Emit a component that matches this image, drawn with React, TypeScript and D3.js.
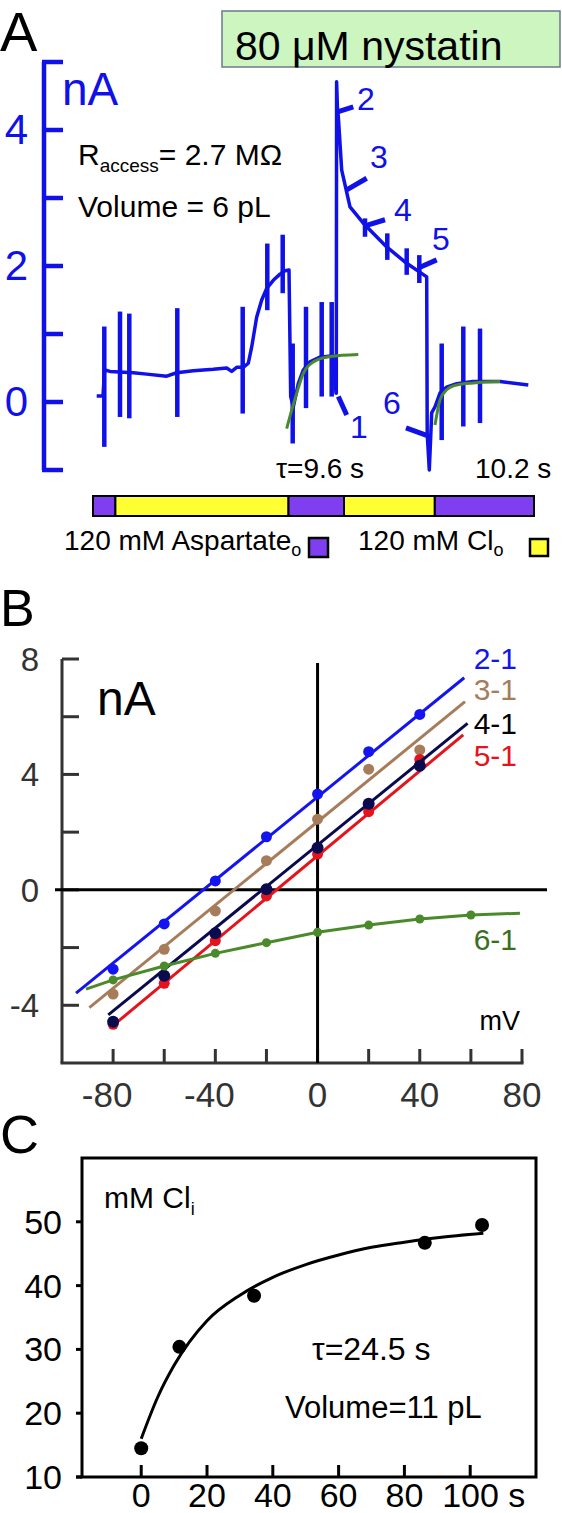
import React from 'react';
import * as d3 from 'd3';

const FONT = "'Liberation Sans', Arial, Helvetica, sans-serif";
const BLUE = '#1010e8';

// ---------- Panel A data (t: arbitrary record time units, v: nA) ----------
const traceA: [number, number][] = [
  [3.7, 0.09], [10, 0.09], [11.5, 0.45], [12, 0.47], [17, 0.45], [40.3, 0.43], [53.7, 0.41],
  [73.7, 0.38], [83.7, 0.43], [100.3, 0.46], [120.3, 0.48], [133.7, 0.5], [138.7, 0.45],
  [143.7, 0.51], [150.3, 0.51], [155.3, 0.57], [158.7, 0.81], [163.7, 1.25], [168.7, 1.5],
  [173.7, 1.67], [180.3, 1.79], [187, 1.88], [192, 1.93], [196, 1.94], [197.7, 0.08],
  [200.3, -0.07], [205.3, 0.27], [210.3, 0.47], [217, 0.59], [227, 0.66], [240.3, 0.68],
  [243, 0.13], [243.3, 0.13], [243.6, 4.71], [244.5, 4.3], [245.3, 4.2], [248.7, 3.41],
  [257, 2.87], [270.3, 2.63], [293.7, 2.28], [313.7, 2.04], [333.7, 1.84], [334.2, -0.46],
  [336.3, -1.0], [338.7, -0.16], [342, -0.07], [347, 0.13], [353.7, 0.22], [363.7, 0.27],
  [380, 0.3], [407, 0.3], [435.3, 0.25],
];
// voltage-step artefacts: [t, top, bottom]
const spikesA: [number, number, number][] = [
  [11.3, 1.11, -0.66], [27, 1.33, -0.22], [36.3, 1.3, -0.24], [84.3, 1.38, -0.22],
  [149.7, 1.4, -0.17], [174.3, 2.33, 1.35], [189.7, 2.46, 1.6], [199.7, 0.86, -0.61],
  [213, 1.4, -0.09], [228.7, 1.47, 0.08], [238.7, 1.47, 0.08], [272, 2.7, 2.43],
  [294.3, 2.48, 2.09], [313.7, 2.26, 1.87], [326.3, 2.16, 1.75], [348.7, 0.86, -0.56],
  [370.3, 1.11, -0.36], [387, 1.08, -0.31],
];
const fitA1: [number, number][] = [
  [193.7, -0.39], [198.7, -0.12], [203.7, 0.13], [210.3, 0.42], [220.3, 0.59], [237, 0.67], [265.3, 0.7],
];
const fitA2: [number, number][] = [
  [342, -0.34], [347, 0.03], [353.7, 0.18], [363.7, 0.25], [380.3, 0.28], [407, 0.3],
];
const markerLabels = ['1', '2', '3', '4', '5', '6'];
const markerLines: [number, number, number, number][] = [
  [245.3, 0.08, 253.7, -0.19], [245.3, 4.27, 260.3, 4.34], [253.7, 3.12, 273.7, 3.29],
  [272, 2.59, 292, 2.68], [325.3, 1.97, 343.7, 2.09], [313, -0.38, 333.7, -0.49],
];
const markerLabelPos: [number, number][] = [
  [257, -0.53], [264, 4.29], [277, 3.44], [301, 2.66], [339, 2.24], [290, -0.18],
];
const yTicksA = [-1, 0, 1, 2, 3, 4, 5];
const yLabelsA = [0, 2, 4];
// solution bar: [start, end, solution]
const solutionBar: [number, number, string][] = [
  [0, 22.4, 'asp'], [22.4, 195.5, 'cl'], [195.5, 251, 'asp'], [251, 341.8, 'cl'], [341.8, 441, 'asp'],
];
const SOL_COLOR: Record<string, string> = { asp: '#7f3ff0', cl: '#ffff33' };

// ---------- Panel B data ----------
const voltagesB = [-80, -60, -40, -20, 0, 20, 40];
const iv21 = [-2.75, -1.18, 0.31, 1.84, 3.32, 4.79, 6.08];
const iv31 = [-3.61, -2.06, -0.73, 1.01, 2.45, 4.18, 4.85];
const iv41 = [-4.57, -2.98, -1.5, 0.02, 1.46, 2.98, 4.3];
const iv51 = [-4.66, -3.24, -1.76, -0.21, 1.24, 2.71, 4.52];
const voltages61 = [-80, -60, -40, -20, 0, 20, 40, 60];
const iv61 = [-3.12, -2.64, -2.2, -1.83, -1.47, -1.22, -1.01, -0.87];
const fit21: [number, number][] = [[-94.5, -3.58], [57.4, 7.35]];
const fit31: [number, number][] = [[-89.3, -4.08], [57.7, 6.52]];
const fit41: [number, number][] = [[-81.9, -4.33], [58.7, 5.77]];
const fit51: [number, number][] = [[-80.8, -4.76], [57, 5.37]];
const ends61: [number, number][] = [[-90.6, -3.44], [79.2, -0.81]];
const yTicksB = [-4, -2, 0, 2, 4, 6, 8];
const yLabelsB = [-4, 0, 4, 8];
const xTicksB = [-80, -60, -40, -20, 0, 20, 40, 60, 80];
const xLabelsB = [-80, -40, 0, 40, 80];

// ---------- Panel C data ----------
const timesC = [0, 11.6, 34.3, 86.2, 103.6];
const clC = [14.5, 30.4, 38.4, 46.7, 49.5];
const fitTimesC = [0, 5, 10, 20, 30, 40, 50, 60, 70, 80, 90, 104];
const fitClC = [16, 22.5, 27.5, 34.5, 38.5, 41.3, 43.3, 44.8, 46, 46.8, 47.5, 48.2];
const yTicksC = [10, 20, 30, 40, 50];
const xTicksC = [0, 20, 40, 60, 80, 100];

export default function App() {
  // scales
  const xA = d3.scaleLinear().domain([0, 441]).range([93, 534]);
  const yA = d3.scaleLinear().domain([-1, 5]).range([470, 62]);
  const xB = d3.scaleLinear().domain([-100, 80]).range([62, 522]);
  const yB = d3.scaleLinear().domain([-6, 8]).range([1063, 659]);
  const xC = d3.scaleLinear().domain([-18, 120]).range([82, 536]);
  const yC = d3.scaleLinear().domain([10, 60]).range([1477, 1158]);

  const lineA = d3.line<[number, number]>().x((d) => xA(d[0])).y((d) => yA(d[1]));
  const smoothA = d3.line<[number, number]>().x((d) => xA(d[0])).y((d) => yA(d[1])).curve(d3.curveMonotoneX);
  const lineB = d3.line<[number, number]>().x((d) => xB(d[0])).y((d) => yB(d[1]));
  const lineC = d3.line<[number, number]>().x((d) => xC(d[0])).y((d) => yC(d[1])).curve(d3.curveMonotoneX);

  const seriesB = [
    { name: '2-1', color: '#1414f0', label: '#1414f0', v: voltagesB, i: iv21, fit: fit21, r: 5.5, ly: 669 },
    { name: '3-1', color: '#a67c5b', label: '#a67c5b', v: voltagesB, i: iv31, fit: fit31, r: 5.5, ly: 700 },
    { name: '5-1', color: '#e5141c', label: '#e5141c', v: voltagesB, i: iv51, fit: fit51, r: 5.5, ly: 766 },
    { name: '4-1', color: '#0a0a4e', label: '#000000', v: voltagesB, i: iv41, fit: fit41, r: 6, ly: 734 },
  ];
  const green = '#4a8a2a';
  const axisGray = '#333333';

  return (
    <svg width={562} height={1513} style={{ position: 'absolute', left: 0, top: 0, background: '#fff' }} fontFamily={FONT}>
      {/* ================= Panel A ================= */}
      <text x={0} y={51} fontSize={56}>A</text>
      <rect x={222} y={11} width={338} height={56} fill="#ccf5c0" stroke="#6a7a8a" strokeWidth={1.5} />
      <text x={235} y={60} fontSize={41}>80 μM nystatin</text>

      {/* blue axis */}
      <line x1={44} x2={44} y1={yA(5)} y2={yA(-1)} stroke={BLUE} strokeWidth={4.5} />
      {yTicksA.map((t) => (
        <line key={t} x1={42} x2={63} y1={yA(t)} y2={yA(t)} stroke={BLUE} strokeWidth={4.5} />
      ))}
      {yLabelsA.map((t) => (
        <text key={t} x={28} y={yA(t) + 14} fontSize={42} fill={BLUE} textAnchor="end">{t}</text>
      ))}
      <text x={62} y={105} fontSize={46} fill={BLUE}>nA</text>

      <text x={78} y={165} fontSize={30}>
        R<tspan fontSize={19} dy={7}>access</tspan><tspan dy={-7}>= 2.7 MΩ</tspan>
      </text>
      <text x={78} y={217} fontSize={30}>Volume = 6 pL</text>

      {/* spikes */}
      {spikesA.map((s, k) => (
        <line key={k} x1={xA(s[0])} x2={xA(s[0])} y1={yA(s[1])} y2={yA(s[2])} stroke={BLUE} strokeWidth={4.5} />
      ))}
      {/* trace */}
      <path d={lineA(traceA) || ''} fill="none" stroke={BLUE} strokeWidth={3.5} strokeLinejoin="round" />
      {/* fits */}
      <path d={smoothA(fitA1) || ''} fill="none" stroke={green} strokeWidth={3} />
      <path d={smoothA(fitA2) || ''} fill="none" stroke={green} strokeWidth={3} />

      {/* markers */}
      {markerLines.map((m, k) => (
        <g key={k}>
          <line x1={xA(m[0])} y1={yA(m[1])} x2={xA(m[2])} y2={yA(m[3])} stroke={BLUE} strokeWidth={5} />
          <text x={xA(markerLabelPos[k][0])} y={yA(markerLabelPos[k][1])} fontSize={32} fill={BLUE}>{markerLabels[k]}</text>
        </g>
      ))}

      <text x={276} y={478} fontSize={28}>τ=9.6 s</text>
      <text x={475} y={478} fontSize={28}>10.2 s</text>

      {/* solution bar */}
      {solutionBar.map((s, k) => (
        <rect key={k} x={xA(s[0])} y={496} width={xA(s[1]) - xA(s[0])} height={20} fill={SOL_COLOR[s[2]]} stroke="#000" strokeWidth={2} />
      ))}
      <text x={64} y={550} fontSize={28}>
        120 mM Aspartate<tspan fontSize={18} dy={6}>o</tspan>
      </text>
      <rect x={309} y={538} width={19} height={19} fill={SOL_COLOR.asp} stroke="#000" strokeWidth={2.5} />
      <text x={358} y={550} fontSize={28}>
        120 mM Cl<tspan fontSize={18} dy={6}>o</tspan>
      </text>
      <rect x={530} y={539} width={18} height={17} fill={SOL_COLOR.cl} stroke="#000" strokeWidth={2.5} />

      {/* ================= Panel B ================= */}
      <text x={0} y={626} fontSize={52}>B</text>
      {/* axes */}
      <line x1={xB(-100)} x2={xB(-100)} y1={yB(8)} y2={yB(-6)} stroke={axisGray} strokeWidth={3} />
      {yTicksB.map((t) => (
        <line key={t} x1={xB(-100)} x2={xB(-100) + 17} y1={yB(t)} y2={yB(t)} stroke={axisGray} strokeWidth={3} />
      ))}
      {yLabelsB.map((t) => (
        <text key={t} x={39} y={yB(t) + 12} fontSize={33} fill={axisGray} textAnchor="end">{t}</text>
      ))}
      <line x1={xB(-100) - 1.5} x2={xB(80) + 1.5} y1={yB(-6)} y2={yB(-6)} stroke={axisGray} strokeWidth={3} />
      {xTicksB.map((t) => (
        <line key={t} x1={xB(t)} x2={xB(t)} y1={yB(-6)} y2={yB(-6) - 14} stroke={axisGray} strokeWidth={3} />
      ))}
      {xLabelsB.map((t) => (
        <text key={t} x={xB(t) - (t < 0 ? 6 : 0)} y={1107} fontSize={35} fill={axisGray} textAnchor="middle">{t}</text>
      ))}
      {/* zero lines */}
      <line x1={55} x2={547} y1={yB(0)} y2={yB(0)} stroke="#000" strokeWidth={3} />
      <line x1={xB(0)} x2={xB(0)} y1={663} y2={yB(-6)} stroke="#000" strokeWidth={3} />
      <text x={97} y={715} fontSize={48}>nA</text>
      <text x={520} y={1030} fontSize={27} textAnchor="end">mV</text>

      {seriesB.map((s) => (
        <g key={s.name}>
          <path d={lineB(s.fit) || ''} stroke={s.color} strokeWidth={3} fill="none" />
          {s.v.map((v, k) => (
            <circle key={k} cx={xB(v)} cy={yB(s.i[k])} r={s.r} fill={s.color} />
          ))}
          <text x={517} y={s.ly} fontSize={30} fill={s.label} textAnchor="end">{s.name}</text>
        </g>
      ))}
      <path
        d={lineB([ends61[0], ...voltages61.map((v, k) => [v, iv61[k]] as [number, number]), ends61[1]]) || ''}
        stroke={green} strokeWidth={3} fill="none"
      />
      {voltages61.map((v, k) => (
        <circle key={k} cx={xB(v)} cy={yB(iv61[k])} r={4.5} fill={green} />
      ))}
      <text x={517} y={950} fontSize={30} fill="#3c6e1e" textAnchor="end">6-1</text>

      {/* ================= Panel C ================= */}
      <text x={0} y={1153} fontSize={54}>C</text>
      <rect x={xC(-18)} y={yC(60)} width={xC(120) - xC(-18)} height={yC(10) - yC(60)} fill="none" stroke="#000" strokeWidth={3} />
      <line x1={76} x2={xC(-18)} y1={yC(10)} y2={yC(10)} stroke="#000" strokeWidth={3} />
      {yTicksC.map((t) => (
        <g key={t}>
          <line x1={76} x2={xC(-18)} y1={yC(t)} y2={yC(t)} stroke="#000" strokeWidth={3} />
          <text x={62} y={yC(t) + 12} fontSize={34} textAnchor="end">{t}</text>
        </g>
      ))}
      {xTicksC.map((t) => (
        <g key={t}>
          <line x1={xC(t)} x2={xC(t)} y1={yC(10)} y2={yC(10) - 12} stroke="#000" strokeWidth={3} />
          <text x={xC(t)} y={1507} fontSize={34} textAnchor={t === 100 ? 'start' : 'middle'} dx={t === 100 ? -28 : 0}>
            {t === 100 ? '100 s' : t}
          </text>
        </g>
      ))}
      <path d={lineC(fitTimesC.map((t, k) => [t, fitClC[k]] as [number, number])) || ''} fill="none" stroke="#000" strokeWidth={3} />
      {timesC.map((t, k) => (
        <circle key={k} cx={xC(t)} cy={yC(clC[k])} r={7} fill="#000" />
      ))}
      <text x={104} y={1208} fontSize={30}>
        mM Cl<tspan fontSize={18} dy={7}>i</tspan>
      </text>
      <text x={312} y={1360} fontSize={32}>τ=24.5 s</text>
      <text x={285} y={1418} fontSize={31}>Volume=11 pL</text>
    </svg>
  );
}
